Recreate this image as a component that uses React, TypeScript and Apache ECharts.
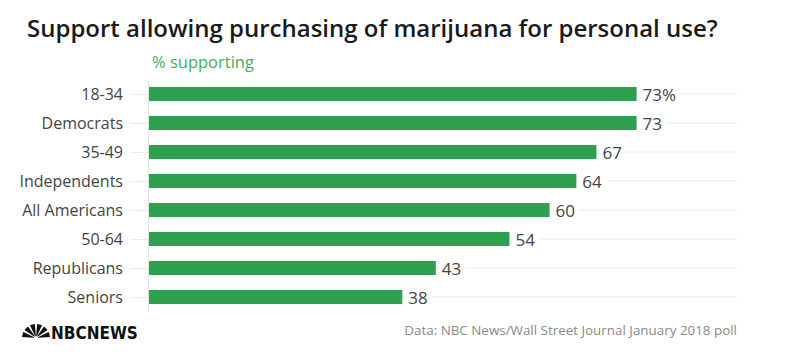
import React, { useEffect, useRef } from "react";
import * as echarts from "echarts";

const categories = ["18-34", "Democrats", "35-49", "Independents", "All Americans", "50-64", "Republicans", "Seniors"];
const values = [73, 73, 67, 64, 60, 54, 43, 38];
const axisMax = 88;
const gridValues = categories.map(() => axisMax);

const GREEN = "#2ea150";
const FONT = "'Open Sans', Lato, sans-serif";

export default function App() {
  const ref = useRef<HTMLDivElement>(null);
  useEffect(() => {
    const chart = echarts.init(ref.current!, null, { renderer: "svg" });
    const feathers = [0, 1, 2, 3, 4, 5].map((i) => {
      const a0 = Math.PI + (i * Math.PI) / 6 + 0.08;
      const a1 = Math.PI + ((i + 1) * Math.PI) / 6 - 0.08;
      return {
        type: "sector",
        shape: { cx: 36, cy: 338, r: 14, r0: 2, startAngle: a0, endAngle: a1 },
        style: { fill: "#111" },
      };
    });
    chart.setOption({
      animation: false,
      backgroundColor: "#fff",
      title: [
        {
          text: "Support allowing purchasing of marijuana for personal use?",
          left: 22,
          top: 10,
          textStyle: { fontFamily: FONT, fontSize: 24, fontWeight: 600, color: "#1a1a1a" },
        },
        {
          text: "% supporting",
          left: 147,
          top: 48,
          textStyle: { fontFamily: FONT, fontSize: 16.5, fontWeight: 400, color: "#45ad63" },
        },
      ],
      grid: { left: 148, right: 63, top: 79.5, bottom: 48.5 },
      xAxis: { type: "value", min: 0, max: axisMax, show: false },
      yAxis: [
        {
          type: "category",
          data: categories,
          inverse: true,
          axisLine: { show: true, lineStyle: { color: "#e2e2e2", width: 1 } },
          axisTick: { show: true, alignWithLabel: true, length: 18, lineStyle: { color: "#ebebeb" } },
          axisLabel: { margin: 25, fontFamily: FONT, fontSize: 16, color: "#444" },
          z: 3,
        },
        {
          type: "category",
          data: categories,
          inverse: true,
          show: false,
        },
      ],
      series: [
        {
          type: "bar",
          yAxisIndex: 1,
          data: gridValues,
          barWidth: 1,
          itemStyle: { color: "#ebebeb" },
          silent: true,
          z: 1,
        },
        {
          type: "bar",
          yAxisIndex: 0,
          data: values,
          barWidth: 14,
          itemStyle: { color: GREEN },
          z: 2,
          label: {
            show: true,
            position: "right",
            distance: 4,
            fontFamily: FONT,
            fontSize: 17,
            color: "#444",
            backgroundColor: "#fff",
            padding: [0, 4, 0, 2],
            formatter: (p: any) => (p.dataIndex === 0 ? p.value + "%" : String(p.value)),
          },
        },
      ],
      graphic: [
        ...feathers,
        {
          type: "text",
          left: 51,
          top: 324,
          style: {
            text: "NBCNEWS",
            fontFamily: "'Liberation Sans Narrow', 'DejaVu Sans Condensed', sans-serif",
            fontWeight: "bold",
            fontSize: 17,
            fill: "#111",
          },
        },
        {
          type: "text",
          right: 63,
          top: 323,
          style: {
            text: "Data: NBC News/Wall Street Journal January 2018 poll",
            fontFamily: FONT,
            fontSize: 13.4,
            fill: "#8a8a8a",
            textAlign: "right",
          },
        },
      ],
    });
    return () => chart.dispose();
  }, []);
  return <div ref={ref} style={{ width: 800, height: 360, position: "absolute", left: 0, top: 0 }} />;
}
